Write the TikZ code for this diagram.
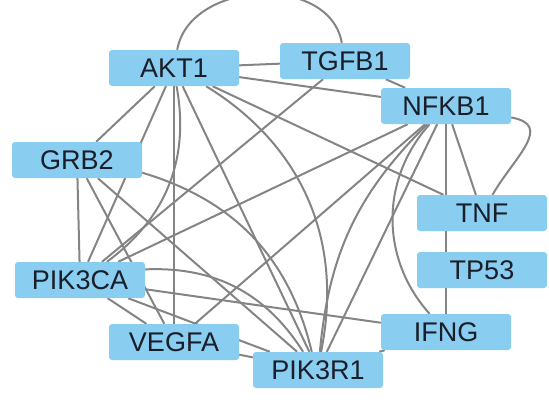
\documentclass[tikz,border=0pt]{standalone}
\usepackage{fontspec}
\setmainfont{Liberation Sans}
\usetikzlibrary{backgrounds}
\definecolor{genefill}{RGB}{137,205,240}
\definecolor{linkgray}{RGB}{132,132,132}
\definecolor{genetext}{RGB}{25,30,40}

\begin{document}
\begin{tikzpicture}[x=1pt,y=-1pt,
    gene/.style={rectangle,rounded corners=3pt,fill=genefill,text=genetext,
      minimum width=130pt,minimum height=36pt,inner sep=0pt,
      font=\fontsize{27}{32}\selectfont},
    link/.style={draw=linkgray,line width=2pt}]
  \useasboundingbox (0,0) rectangle (549,410);
  \node[gene] (akt) at (174,68) {AKT1};
  \node[gene] (tgfb) at (345,61) {TGFB1};
  \node[gene] (nfkb) at (446,106) {NFKB1};
  \node[gene] (grb) at (77,160) {GRB2};
  \node[gene] (tnf) at (482,213) {TNF};
  \node[gene] (tp) at (482,270) {TP53};
  \node[gene] (pika) at (80,280) {PIK3CA};
  \node[gene] (ifng) at (446,332) {IFNG};
  \node[gene] (vegf) at (174,342) {VEGFA};
  \node[gene] (pikr) at (318,370) {PIK3R1};
  \begin{pgfonlayer}{background}
    % AKT1
    \draw[link] (akt) -- (tgfb);
    \draw[link] (akt) to[out=80,in=100,looseness=1.1] (tgfb);
    \draw[link] (akt) -- (nfkb);
    \draw[link] (akt) -- (grb);
    \draw[link] (akt) -- (pika);
    \draw[link] (akt) to[bend left=32] (pika);
    \draw[link] (akt) -- (vegf);
    \draw[link] (akt) -- (pikr);
    \draw[link] (akt) to[bend left=35] (pikr);
    \draw[link] (akt) -- (tnf);
    % TGFB1 and NFKB1
    \draw[link] (tgfb) -- (nfkb);
    \draw[link] (tgfb) -- (pika);
    \draw[link] (nfkb) -- (tnf);
    \draw[link] (nfkb) to[out=-10,in=60,looseness=1.4] (tnf);
    \draw[link] (nfkb) -- (ifng);
    \draw[link] (nfkb) to[bend right=42] (ifng);
    \draw[link] (nfkb) -- (pika);
    \draw[link] (nfkb) -- (vegf);
    \draw[link] (nfkb) -- (pikr);
    \draw[link] (nfkb) to[bend right=20] (pikr);
    % GRB2 and PIK3CA
    \draw[link] (grb) -- (pika);
    \draw[link] (grb) -- (vegf);
    \draw[link] (grb) -- (pikr);
    \draw[link] (grb) to[bend left=30] (pikr);
    \draw[link] (pika) -- (vegf);
    \draw[link] (pika) -- (pikr);
    \draw[link] (pika) to[bend left=30] (pikr);
    \draw[link] (pika) -- (ifng);
    % lower row
    \draw[link] (vegf) -- (pikr);
    \draw[link] (ifng) -- (pikr);
  \end{pgfonlayer}
\end{tikzpicture}
\end{document}
